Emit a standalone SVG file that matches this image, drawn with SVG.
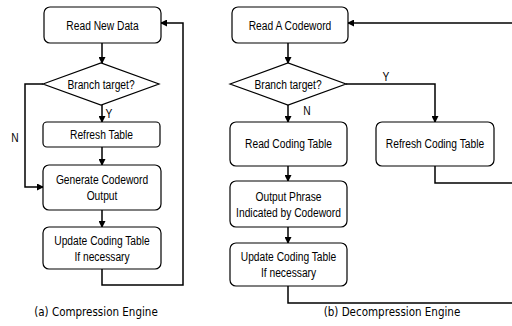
<svg xmlns="http://www.w3.org/2000/svg" width="512" height="326" viewBox="0 0 512 326">
<defs>
<marker id="ah" markerWidth="7" markerHeight="7" refX="6" refY="3.5" orient="auto" markerUnits="userSpaceOnUse">
<path d="M0,0 L7,3.5 L0,7 Z" fill="#000"/>
</marker>
<style>
.box{fill:#fff;stroke:#000;stroke-width:1.2}
.t{font-family:"Liberation Sans",Arial,sans-serif;font-size:12.5px;fill:#000;text-anchor:middle}
.c{font-family:"DejaVu Sans Condensed","DejaVu Sans",sans-serif;font-size:11.5px;fill:#000;text-anchor:middle}
.ln{fill:none;stroke:#000;stroke-width:1.5}
.arr{fill:none;stroke:#000;stroke-width:1.5;marker-end:url(#ah)}
</style>
</defs>
<rect width="512" height="326" fill="#fff"/>
<g id="connectors">
<line class="arr" x1="102" y1="43" x2="102" y2="63"/>
<line class="arr" x1="102" y1="105" x2="102" y2="122"/>
<line class="arr" x1="102" y1="147" x2="102" y2="165"/>
<line class="arr" x1="102" y1="210" x2="102" y2="227"/>
<polyline class="arr" points="43,84 25,84 25,187 43,187"/>
<polyline class="arr" points="102,269 102,285 183,285 183,23 161,23"/>
<line class="arr" x1="288" y1="43" x2="288" y2="63"/>
<line class="arr" x1="288" y1="105" x2="288" y2="122"/>
<line class="arr" x1="288" y1="166" x2="288" y2="181"/>
<line class="arr" x1="288" y1="227" x2="288" y2="243"/>
<polyline class="arr" points="346,84 435,84 435,122"/>
<polyline class="ln" points="435,166 435,183 514,183"/>
<polyline class="ln" points="288,286 288,303 514,303"/>
<line class="arr" x1="514" y1="23" x2="348" y2="23"/>
<text class="t" transform="translate(109,118) scale(0.82,1)">Y</text>
<text class="t" transform="translate(15,142) scale(0.82,1)">N</text>
<text class="t" transform="translate(386,81) scale(0.82,1)">Y</text>
<text class="t" transform="translate(307,115) scale(0.82,1)">N</text>
</g>
<g id="n1"><rect class="box" x="44" y="7" width="117" height="36" rx="6"/><text class="t" transform="translate(102.5,30) scale(0.82,1)">Read New Data</text></g>
<g id="n2"><polygon class="box" points="43,84 101,63 159,84 101,105"/><text class="t" transform="translate(101,88.5) scale(0.82,1)">Branch target?</text></g>
<g id="n3"><rect class="box" x="43" y="122" width="117" height="25" rx="4"/><text class="t" transform="translate(101.5,139) scale(0.82,1)">Refresh Table</text></g>
<g id="n4"><rect class="box" x="43" y="165" width="118" height="45" rx="6"/><text class="t" transform="translate(102,184) scale(0.82,1)">Generate Codeword</text><text class="t" transform="translate(102,200) scale(0.82,1)">Output</text></g>
<g id="n5"><rect class="box" x="43" y="227" width="118" height="42" rx="6"/><text class="t" transform="translate(102,245) scale(0.82,1)">Update Coding Table</text><text class="t" transform="translate(102,261) scale(0.82,1)">If necessary</text></g>
<g id="m1"><rect class="box" x="232" y="7" width="116" height="36" rx="6"/><text class="t" transform="translate(290,30) scale(0.82,1)">Read A Codeword</text></g>
<g id="m2"><polygon class="box" points="230,84 288,63 346,84 288,105"/><text class="t" transform="translate(288,88.5) scale(0.82,1)">Branch target?</text></g>
<g id="m3"><rect class="box" x="230" y="122" width="117" height="44" rx="6"/><text class="t" transform="translate(288.5,148) scale(0.82,1)">Read Coding Table</text></g>
<g id="m4"><rect class="box" x="376" y="122" width="118" height="44" rx="6"/><text class="t" transform="translate(435,148) scale(0.82,1)">Refresh Coding Table</text></g>
<g id="m5"><rect class="box" x="230" y="181" width="117" height="46" rx="6"/><text class="t" transform="translate(288.5,201) scale(0.82,1)">Output Phrase</text><text class="t" transform="translate(288.5,217) scale(0.82,1)">Indicated by Codeword</text></g>
<g id="m6"><rect class="box" x="230" y="243" width="117" height="43" rx="6"/><text class="t" transform="translate(288.5,261) scale(0.82,1)">Update Coding Table</text><text class="t" transform="translate(288.5,277) scale(0.82,1)">If necessary</text></g>
<text class="c" x="96" y="316">(a) Compression Engine</text>
<text class="c" x="392" y="316">(b) Decompression Engine</text>
</svg>
